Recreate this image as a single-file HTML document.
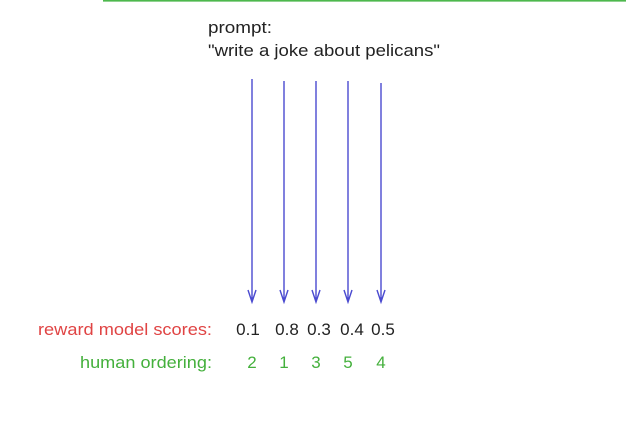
<!DOCTYPE html>
<html><head><style>
body{margin:0;background:#fff;width:626px;height:427px;overflow:hidden;font-family:"Liberation Sans",sans-serif}
svg{display:block}
</style></head><body>
<svg width="626" height="427">
<line x1="103" y1="0.8" x2="626" y2="0.8" stroke="#4db84d" stroke-width="1.6"/>
<text x="208" y="33" font-size="17" fill="#222" textLength="64" lengthAdjust="spacingAndGlyphs">prompt:</text>
<text x="208" y="56" font-size="17" fill="#222" textLength="232" lengthAdjust="spacingAndGlyphs">"write a joke about pelicans"</text>
<g id="arrows"></g>
<text x="38" y="335" font-size="17" fill="#e04444" textLength="174" lengthAdjust="spacingAndGlyphs">reward model scores:</text>
<text x="80" y="368" font-size="17" fill="#44b03c" textLength="132" lengthAdjust="spacingAndGlyphs">human ordering:</text>
<g id="vals"></g>
</svg>
<script>
const scores=["0.1","0.8","0.3","0.4","0.5"];
const ranks=["2","1","3","5","4"];
const xs=[252,284,316,348,381];
const ys=[79,81,81,81,83];
const sx=[248,287,319,352,383];
const ns="http://www.w3.org/2000/svg";
const g=document.getElementById('arrows'),v=document.getElementById('vals');
xs.forEach((x,i)=>{
 const p=document.createElementNS(ns,'path');
 p.setAttribute('d',`M${x} ${ys[i]}V302M${x-4} 290L${x} 302L${x+4} 290`);
 p.setAttribute('stroke','#4a4ad0');p.setAttribute('stroke-width','1.4');p.setAttribute('fill','none');
 
 
 g.appendChild(p);
 const t=document.createElementNS(ns,'text');
 t.setAttribute('x',sx[i]);t.setAttribute('y',335);t.setAttribute('font-size','17');t.setAttribute('fill','#222');t.setAttribute('text-anchor','middle');
 t.textContent=scores[i];
 
 
 v.appendChild(t);
 const r=document.createElementNS(ns,'text');
 r.setAttribute('x',x);r.setAttribute('y',368);r.setAttribute('font-size','17');r.setAttribute('fill','#44b03c');r.setAttribute('text-anchor','middle');
 r.textContent=ranks[i];
 
 
 v.appendChild(r);
});
</script>
</body></html>
